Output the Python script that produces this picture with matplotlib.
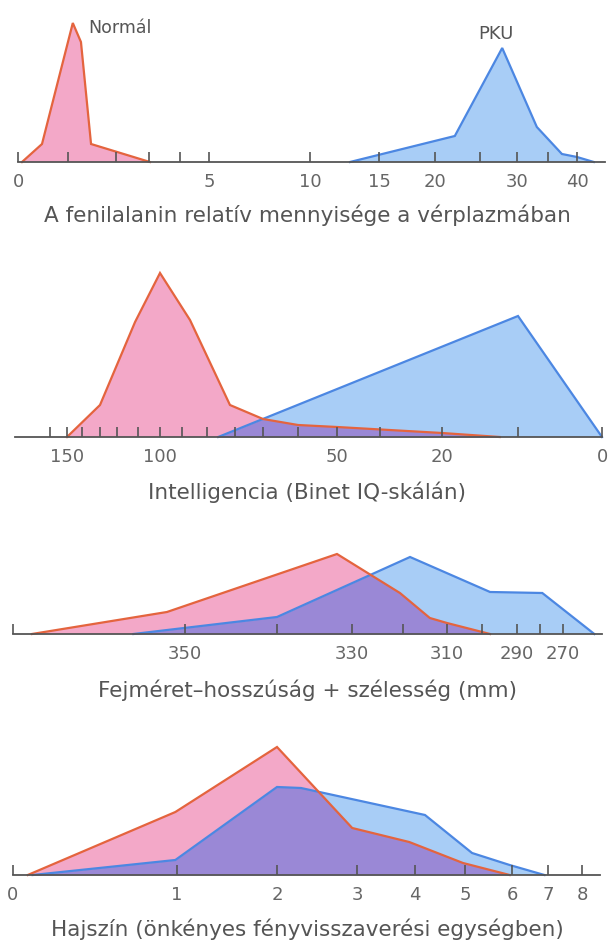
import numpy as np
import matplotlib
matplotlib.use("Agg")
import matplotlib.pyplot as plt

plt.rcParams['font.family'] = ['DejaVu Sans']

# ---------------- data ----------------
# Panel 1: relative phenylalanine level in blood plasma
phe_ticks = [0, 1, 2, 3, 4, 5, 10, 15, 20, 25, 30, 35, 40]
phe_labels = ['0', '', '', '', '', '5', '10', '15', '20', '', '30', '', '40']
phe_normal_x = [0.08, 0.48, 1.1, 1.27, 1.48, 3.03]
phe_normal_y = [0, 18, 139, 120, 18, 0]
phe_pku_x = [12.9, 22.2, 28.0, 33.2, 37.4, 40.0, 43.0]
phe_pku_y = [0, 26, 114, 35, 8, 5, 0]

# Panel 2: intelligence (Binet IQ)
iq_ticks = [160, 150, 140, 130, 120, 110, 100, 90, 80, 70, 60, 55, 50, 35, 20, 10, 0]
iq_labels = ['', '150', '', '', '', '', '100', '', '', '', '', '', '50', '', '20', '', '0']
iq_normal_x = [150, 130, 111.4, 100, 86.8, 71.8, 60, 55, 50, 20, 12.4]
iq_normal_y = [0, 32, 115, 164, 117, 32, 18, 12, 10, 4, 0]
iq_pku_x = [76, 10, 0]
iq_pku_y = [0, 121, 0]

# Panel 3: head size, length + width (mm)
head_ticks = [370, 350, 340, 330, 320, 310, 300, 290, 280, 270]
head_labels = ['', '350', '', '330', '', '310', '', '290', '', '270']
head_normal_x = [367.8, 352.1, 332.0, 320.6, 313.9, 310.0, 297.7]
head_normal_y = [0, 22, 80, 41, 16, 11, 0]
head_pku_x = [356.0, 340.0, 318.4, 297.7, 279.0, 257.4]
head_pku_y = [0, 17, 77, 42, 41, 0]

# Panel 4: hair colour (arbitrary reflectance units)
hair_ticks = [0, 1, 2, 3, 4, 5, 6, 7, 8]
hair_labels = ['0', '1', '2', '3', '4', '5', '6', '7', '8']
hair_normal_x = [0.09, 0.99, 2.0, 2.94, 3.9, 4.96, 5.95]
hair_normal_y = [0, 63, 128, 47, 33, 12, 0]
hair_pku_x = [0.12, 0.99, 2.0, 2.3, 4.2, 5.15, 5.95, 6.9]
hair_pku_y = [0, 15, 88, 87, 60, 22, 10, 0]

titles = ['A fenilalanin relatív mennyisége a vérplazmában',
          'Intelligencia (Binet IQ-skálán)',
          'Fejméret–hosszúság + szélesség (mm)',
          'Hajszín (önkényes fényvisszaverési egységben)']

# ---------------- layout (hand-drawn, non-linear axis scales) ----------------
W, H = 615, 943
# scale knots: axis value -> horizontal pixel position
layouts = [
    dict(vals=phe_ticks + [45], pos=[18, 68, 116, 149, 180, 209, 310, 379, 435, 480, 517, 548, 577, 605],
         base=162, top=15, title_y=215),
    dict(vals=[165] + iq_ticks, pos=[15, 50, 67, 82, 100, 117, 138, 160, 182, 207, 235, 263, 298, 337, 380, 442, 518, 602],
         base=437, top=265, title_y=492),
    dict(vals=head_ticks + [260, 255], pos=[13, 185, 277, 352, 403, 447, 482, 517, 540, 563, 586, 602],
         base=634, top=545, title_y=690),
    dict(vals=hair_ticks + [8.5], pos=[13, 177, 277, 357, 415, 465, 512, 548, 582, 600],
         base=875, top=740, title_y=929),
]

panels = [
    (phe_ticks, phe_labels, phe_normal_x, phe_normal_y, phe_pku_x, phe_pku_y),
    (iq_ticks, iq_labels, iq_normal_x, iq_normal_y, iq_pku_x, iq_pku_y),
    (head_ticks, head_labels, head_normal_x, head_normal_y, head_pku_x, head_pku_y),
    (hair_ticks, hair_labels, hair_normal_x, hair_normal_y, hair_pku_x, hair_pku_y),
]

PINK = '#F3A8C8'
RED = '#E4643E'
BLUE = '#A8CDF6'
BLUE_LINE = '#4C87E2'
PURPLE = '#9A88D6'
AXIS = '#555555'
TEXT = '#555555'

fig = plt.figure(figsize=(W / 100, H / 100), dpi=100)


def make_funcs(vals, pos):
    v = np.asarray(vals, float)
    p = np.asarray(pos, float)
    sign = 1.0 if (v[-1] - v[0]) * (p[-1] - p[0]) > 0 else -1.0
    order = np.argsort(v)
    vs, ps = v[order], p[order]
    porder = np.argsort(p)
    pp, pv = p[porder], v[porder]

    def pos_fn(x):
        return np.interp(x, vs, ps)

    def val_fn(u):
        return np.interp(u, pp, pv)

    def fwd(x):
        return sign * pos_fn(x)

    def inv(u):
        return val_fn(sign * np.asarray(u, float))
    return fwd, inv, pos_fn, val_fn


for lay, (ticks, labels, nx, ny, px, py), title in zip(layouts, panels, titles):
    vals, pos = lay['vals'], lay['pos']
    x0, x1 = min(pos), max(pos)
    hpx = lay['base'] - lay['top']
    ax = fig.add_axes([x0 / W, 1 - lay['base'] / H, (x1 - x0) / W, hpx / H])
    fwd, inv, pos_fn, val_fn = make_funcs(vals, pos)
    ax.set_xscale('function', functions=(fwd, inv))
    ax.set_xlim(vals[0], vals[-1])
    ax.set_ylim(0, hpx)

    ax.fill(nx, ny, color=PINK, lw=0, zorder=1, clip_on=False)
    ax.fill(px, py, color=BLUE, lw=0, zorder=2, clip_on=False)

    # overlap region (min of both polygons, evaluated along the drawn axis)
    u = np.linspace(x0, x1, 3000)
    xv = val_fn(u)
    n_pos = pos_fn(np.asarray(nx, float))
    p_pos = pos_fn(np.asarray(px, float))
    on = np.argsort(n_pos)
    op = np.argsort(p_pos)
    yn = np.interp(u, n_pos[on], np.asarray(ny, float)[on], left=0, right=0)
    yp = np.interp(u, p_pos[op], np.asarray(py, float)[op], left=0, right=0)
    ymin = np.minimum(yn, yp)
    ax.fill_between(xv, 0, ymin, color=PURPLE, lw=0, zorder=3)

    ax.plot(px, py, color=BLUE_LINE, lw=1.6, zorder=4, clip_on=False, solid_joinstyle='miter')
    ax.plot(nx, ny, color=RED, lw=1.6, zorder=5, clip_on=False, solid_joinstyle='miter')

    for s in ['top', 'left', 'right']:
        ax.spines[s].set_visible(False)
    ax.spines['bottom'].set_color(AXIS)
    ax.spines['bottom'].set_linewidth(1.3)
    ax.spines['bottom'].set_zorder(6)
    ax.xaxis.set_zorder(6)
    ax.set_yticks([])
    ax.set_xticks(ticks)
    ax.set_xticklabels(labels)
    ax.xaxis.set_minor_locator(matplotlib.ticker.NullLocator())
    ax.tick_params(axis='x', direction='in', length=7, width=1.2, color=AXIS,
                   pad=8, labelsize=13, labelcolor='#666666')
    ax.patch.set_alpha(0)

    fig.text(307 / W, 1 - lay['title_y'] / H, title, ha='center', va='center',
             fontsize=15.5, color=TEXT)

fig.text(88 / W, 1 - 28 / H, 'Normál', ha='left', va='center', fontsize=12.5, color=TEXT)
fig.text(496 / W, 1 - 34 / H, 'PKU', ha='center', va='center', fontsize=13, color=TEXT)

fig.savefig('out.png', dpi=100)
